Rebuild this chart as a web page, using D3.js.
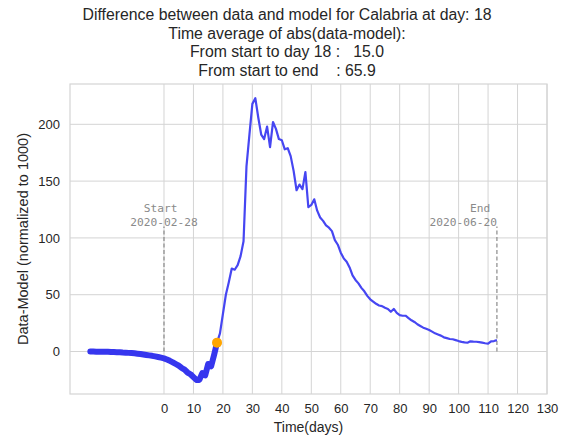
<!DOCTYPE html>
<html><head><meta charset="utf-8">
<script src="https://cdn.jsdelivr.net/npm/d3@7"></script>
<style>body{margin:0;background:#fff}svg{display:block}text{white-space:pre}</style>
</head><body>
<svg id="c" width="563" height="439"></svg>
<script>
// Days of the early (thick) segment, from -25 to 18
const earlyDays = d3.range(-25, 19);
const earlyValues = [0.0,0.0,-0.1,-0.1,-0.2,-0.2,-0.3,-0.4,-0.5,-0.6,-0.7,-0.9,-1.0,-1.2,-1.4,-1.6,
  -1.9,-2.2,-2.6,-3.0,-3.4,-3.8,-4.3,-4.8,-5.4,-6.0,-7.0,-8.2,-9.5,-11,-12.5,-14.5,-16,-18.5,-20,-22.5,-25,-25,-19,-21,-11,-13,-3,7.8];
// Later (thin) segment, days 18..113
const lateDays = d3.range(18, 114);
const lateValues = [7.8,16,33,50,61,73,72,76,84,97,163,191,218,223,206,191,187,198,180,202,196,187,186,178,179,172,159,142,147,143,158,127,129,134,124,118,115,111,109,106,98,94,87,82,79,74,67,63,60,56,53,49,46,44,42,40.5,40,38.5,37.5,35,37.5,34,32,31.5,31.5,29.5,27.5,26,24,22.5,21,20,19,17.5,16,15,14,12.5,11.8,11,10.8,10,9.2,8.5,8,7.7,9,8.7,8.6,8.3,7.8,7.3,6.9,9,9.2,10];
const currentDay = 18, currentValue = 7.8;
const xTicks = d3.range(0, 131, 10);
const yTicks = [0, 50, 100, 150, 200];
const startDay = 0, endDay = 113, markerTop = 110;
const titleLines = ["Difference between data and model for Calabria at day: 18",
  "Time average of abs(data-model):",
  "From start to day 18 :   15.0",
  "From start to end    : 65.9"];

const svg = d3.select("#c");
const L = 70, R = 547, T = 84, B = 394;
const x = d3.scaleLinear().domain([-31.9, 130]).range([L, R]);
const y = d3.scaleLinear().domain([-37.4, 235.5]).range([B, T]);
const grid = "#d4d4d4", txt = "#262626";
const sans = "Liberation Sans, Arial, sans-serif";

// grid
svg.append("g").selectAll("line").data(xTicks).join("line")
  .attr("x1", d => x(d)).attr("x2", d => x(d)).attr("y1", T).attr("y2", B)
  .attr("stroke", grid).attr("stroke-width", 1);
svg.append("g").selectAll("line").data(yTicks).join("line")
  .attr("y1", d => y(d)).attr("y2", d => y(d)).attr("x1", L).attr("x2", R)
  .attr("stroke", grid).attr("stroke-width", 1);
svg.append("rect").attr("x", L).attr("y", T).attr("width", R - L).attr("height", B - T)
  .attr("fill", "none").attr("stroke", grid).attr("stroke-width", 1.2);

// axes (tick labels)
const xAxis = svg.append("g").attr("transform", `translate(0,${B})`)
  .call(d3.axisBottom(x).tickValues(xTicks).tickSize(0).tickPadding(10));
const yAxis = svg.append("g").attr("transform", `translate(${L},0)`)
  .call(d3.axisLeft(y).tickValues(yTicks).tickSize(0).tickPadding(10));
[xAxis, yAxis].forEach(a => {
  a.select(".domain").remove();
  a.selectAll("text").attr("font-family", sans).attr("font-size", 13).attr("fill", txt);
});

// markers start / end
const mono = "DejaVu Sans Mono, monospace";
[startDay, endDay].forEach(d => {
  svg.append("line").attr("x1", x(d)).attr("x2", x(d)).attr("y1", y(0)).attr("y2", y(markerTop))
    .attr("stroke", "#8a8a8a").attr("stroke-width", 1.2).attr("stroke-dasharray", "4,2.5");
});
const st = svg.append("text").attr("font-family", mono).attr("font-size", 11.2).attr("fill", "#8a8a8a")
  .attr("text-anchor", "middle");
st.append("tspan").attr("x", x(startDay)).attr("y", 212).text("Start ");
st.append("tspan").attr("x", x(startDay)).attr("y", 226).text("2020-02-28");
const en = svg.append("text").attr("font-family", mono).attr("font-size", 11.2).attr("fill", "#8a8a8a")
  .attr("text-anchor", "end");
en.append("tspan").attr("x", x(endDay)).attr("y", 212).text("End ");
en.append("tspan").attr("x", x(endDay)).attr("y", 226).text("2020-06-20");

// lines
const line = d3.line().x(d => x(d[0])).y(d => y(d[1]));
svg.append("path").datum(lateDays.map((d, i) => [d, lateValues[i]]))
  .attr("d", line).attr("fill", "none").attr("stroke", "#4646f2").attr("stroke-width", 2.2)
  .attr("stroke-linejoin", "round");
svg.append("path").datum(earlyDays.map((d, i) => [d, earlyValues[i]]))
  .attr("d", line).attr("fill", "none").attr("stroke", "#3636ee").attr("stroke-width", 6)
  .attr("stroke-linejoin", "round").attr("stroke-linecap", "round");
svg.append("circle").attr("cx", x(currentDay)).attr("cy", y(currentValue)).attr("r", 5)
  .attr("fill", "#ffa500");

// title
const tt = svg.append("text").attr("font-family", sans)
  .attr("font-size", 15.8).attr("fill", txt).attr("text-anchor", "middle");
titleLines.forEach((s, i) => tt.append("tspan").attr("x", 287).attr("y", 20 + i * 18.5).text(s));

// axis labels
svg.append("text").attr("x", (L + R) / 2).attr("y", 432).attr("text-anchor", "middle")
  .attr("font-family", sans).attr("font-size", 14).attr("fill", txt)
  .text("Time(days)");
svg.append("text").attr("transform", `translate(28,${(T + B) / 2}) rotate(-90)`).attr("text-anchor", "middle")
  .attr("font-family", sans).attr("font-size", 14.5).attr("fill", txt)
  .text("Data-Model (normalized to 1000)");
</script>
</body></html>
